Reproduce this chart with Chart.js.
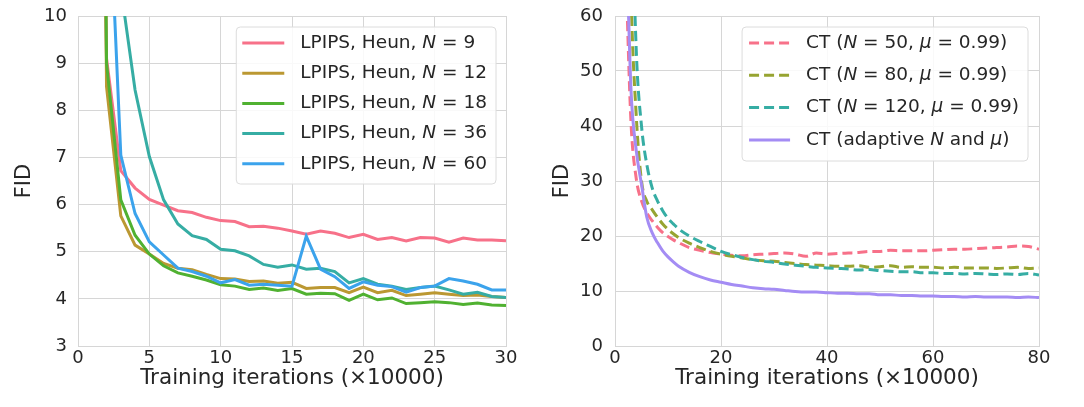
<!DOCTYPE html>
<html>
<head>
<meta charset="utf-8">
<script src="https://cdn.jsdelivr.net/npm/chart.js@4.4.0/dist/chart.umd.min.js"></script>
<style>
  body { margin: 0; background: #fff; }
  #wrap { position: relative; width: 1084px; height: 407px; }
  canvas { position: absolute; top: 0; }
  #left { left: 0; }
  #right { left: 540px; }
</style>
</head>
<body>
<div id="wrap">
  <canvas id="left" width="540" height="407"></canvas>
  <canvas id="right" width="544" height="407"></canvas>
</div>
<script>
// left panel: LPIPS metric, Heun solver, different N
const leftIters = [1, 2, 3, 4, 5, 6, 7, 8, 9, 10, 11, 12, 13, 14, 15, 16, 17, 18, 19, 20, 21, 22, 23, 24, 25, 26, 27, 28, 29, 30];
const lpipsN9  = [30, 9.1, 6.72, 6.35, 6.11, 5.99, 5.87, 5.83, 5.73, 5.66, 5.64, 5.53, 5.54, 5.50, 5.44, 5.37, 5.44, 5.39, 5.30, 5.37, 5.26, 5.30, 5.23, 5.30, 5.29, 5.20, 5.29, 5.25, 5.25, 5.23];
const lpipsN12 = [40, 8.5, 5.76, 5.14, 4.95, 4.75, 4.65, 4.62, 4.52, 4.43, 4.42, 4.37, 4.38, 4.33, 4.35, 4.22, 4.24, 4.24, 4.13, 4.25, 4.13, 4.18, 4.07, 4.10, 4.13, 4.10, 4.07, 4.08, 4.05, 4.03];
const lpipsN18 = [40, 9.0, 6.10, 5.35, 4.95, 4.70, 4.55, 4.48, 4.40, 4.30, 4.27, 4.20, 4.23, 4.18, 4.22, 4.10, 4.12, 4.11, 3.97, 4.10, 3.98, 4.02, 3.90, 3.92, 3.94, 3.92, 3.88, 3.91, 3.87, 3.86];
const lpipsN36 = [40, 25, 10.6, 8.43, 7.02, 6.10, 5.59, 5.34, 5.26, 5.05, 5.02, 4.91, 4.73, 4.67, 4.72, 4.63, 4.65, 4.58, 4.34, 4.43, 4.31, 4.27, 4.20, 4.24, 4.27, 4.19, 4.10, 4.14, 4.05, 4.03];
const lpipsN60 = [40, 13.9, 7.05, 5.81, 5.21, 4.93, 4.65, 4.58, 4.48, 4.34, 4.41, 4.29, 4.31, 4.29, 4.27, 5.33, 4.63, 4.47, 4.22, 4.36, 4.29, 4.26, 4.14, 4.24, 4.27, 4.43, 4.38, 4.31, 4.19, 4.19];
const leftLabels = ['LPIPS, Heun, N = 9', 'LPIPS, Heun, N = 12', 'LPIPS, Heun, N = 18', 'LPIPS, Heun, N = 36', 'LPIPS, Heun, N = 60'];
const leftColors = ['#f77189', '#bb9832', '#50b131', '#36ada4', '#3ba3ec'];
const leftXTicks = [0, 5, 10, 15, 20, 25, 30];
const leftYTicks = [3, 4, 5, 6, 7, 8, 9, 10];

// right panel: CT with fixed vs adaptive schedule
const rightIters = [2, 3, 4, 5, 6, 7, 8, 9, 10, 11, 12, 14, 16, 18, 20, 22, 24, 26, 28, 30, 32, 34, 36, 38, 40, 42, 44, 46, 48, 50, 52, 54, 56, 58, 60, 62, 64, 66, 68, 70, 72, 74, 76, 78, 80];
const ctN50  = [70, 41, 30.5, 26.4, 24.2, 22.8, 21.6, 20.6, 19.9, 19.3, 18.8, 17.9, 17.4, 17.0, 16.7, 16.5, 16.4, 16.6, 16.7, 16.8, 16.9, 16.7, 16.3, 16.9, 16.7, 16.8, 16.9, 17.0, 17.2, 17.2, 17.4, 17.3, 17.3, 17.3, 17.4, 17.5, 17.6, 17.6, 17.7, 17.8, 17.9, 18.0, 18.2, 18.1, 17.6];
const ctN80  = [120, 65, 42, 30, 26.3, 24.8, 23.4, 22.2, 21.2, 20.4, 19.7, 18.7, 17.9, 17.2, 16.7, 16.3, 16.0, 15.7, 15.5, 15.4, 15.2, 15.0, 14.8, 14.7, 14.6, 14.5, 14.5, 14.6, 14.3, 14.4, 14.6, 14.3, 14.4, 14.3, 14.3, 14.2, 14.3, 14.2, 14.2, 14.2, 14.1, 14.2, 14.3, 14.1, 14.2];
const ctN120 = [150, 90, 54, 40, 33, 28.8, 26.4, 24.6, 23.2, 22.2, 21.3, 20.0, 19.0, 18.1, 17.2, 16.6, 16.1, 15.7, 15.4, 15.2, 14.9, 14.7, 14.5, 14.3, 14.2, 14.1, 14.0, 13.8, 13.9, 13.7, 13.6, 13.5, 13.5, 13.3, 13.3, 13.2, 13.2, 13.1, 13.2, 13.1, 13.0, 13.1, 13.0, 13.2, 12.9];
const ctAdaptive = [80, 47, 35.6, 29.4, 23.4, 20.6, 18.8, 17.3, 16.2, 15.3, 14.5, 13.4, 12.6, 12.0, 11.6, 11.2, 10.9, 10.6, 10.4, 10.3, 10.1, 9.9, 9.8, 9.8, 9.7, 9.6, 9.6, 9.5, 9.5, 9.3, 9.3, 9.2, 9.2, 9.1, 9.1, 9.0, 9.0, 8.9, 9.0, 8.9, 8.9, 8.9, 8.8, 8.9, 8.8];
const rightLabels = ['CT (N = 50, μ = 0.99)', 'CT (N = 80, μ = 0.99)', 'CT (N = 120, μ = 0.99)', 'CT (adaptive N and μ)'];
const rightColors = ['#f77189', '#97a431', '#36ada4', '#a48cf4'];
const rightDashed = [true, true, true, false];
const rightXTicks = [0, 20, 40, 60, 80];
const rightYTicks = [0, 10, 20, 30, 40, 50, 60];

const FONT = "'DejaVu Sans', sans-serif";
const LEGEND_SIZE = 18.5;
Chart.defaults.font.family = FONT;
Chart.defaults.font.size = 18;
Chart.defaults.color = '#262626';

// legend text: N and mu in italic like matplotlib mathtext
function richParts(label) {
  return label.split(/([Nμ])/).filter(s => s.length);
}
function drawRich(ctx, label, x, y, size, measureOnly) {
  let cx = x;
  for (const part of richParts(label)) {
    const it = part === 'N' || part === 'μ';
    ctx.font = (it ? 'italic ' : '') + size + 'px ' + FONT;
    if (!measureOnly) ctx.fillText(part, cx, y);
    cx += ctx.measureText(part).width;
  }
  return cx - x;
}

const insideLegend = {
  id: 'insideLegend',
  afterDatasetsDraw(chart, args, o) {
    const ctx = chart.ctx, area = chart.chartArea, sets = chart.data.datasets;
    ctx.save();
    let maxW = 0;
    sets.forEach(ds => { maxW = Math.max(maxW, drawRich(ctx, ds.label, 0, 0, LEGEND_SIZE, true)); });
    const w = o.padLeft + o.lineLen + o.gap + maxW + o.padRight;
    const x0 = area.right - o.marginRight - w;
    const y0 = area.top + o.marginTop;
    ctx.beginPath();
    ctx.roundRect(x0, y0, w, o.boxH, 4);
    ctx.fillStyle = 'rgba(255,255,255,0.85)';
    ctx.fill();
    ctx.strokeStyle = '#dcdcdc';
    ctx.lineWidth = 1;
    ctx.stroke();
    ctx.textBaseline = 'middle';
    sets.forEach((ds, i) => {
      const y = y0 + o.firstRow + i * o.rowH;
      ctx.beginPath();
      ctx.setLineDash(ds.borderDash || []);
      ctx.strokeStyle = ds.borderColor;
      ctx.lineWidth = ds.borderWidth;
      ctx.moveTo(x0 + o.padLeft, y);
      ctx.lineTo(x0 + o.padLeft + o.lineLen, y);
      ctx.stroke();
      ctx.setLineDash([]);
      ctx.fillStyle = '#262626';
      drawRich(ctx, ds.label, x0 + o.padLeft + o.lineLen + o.gap, y, LEGEND_SIZE);
    });
    ctx.restore();
  }
};

function axes(xMin, xMax, xTicks, yMin, yMax, yTicks, yWidth, yTitlePad, yTickPad) {
  const grid = { color: '#d6d6d6', lineWidth: 1, drawTicks: false };
  const border = { color: '#d6d6d6', width: 1 };
  return {
    x: {
      type: 'linear', min: xMin, max: xMax,
      afterBuildTicks: s => { s.ticks = xTicks.map(v => ({ value: v })); },
      ticks: { padding: 2, font: { size: 18 } },
      grid, border,
      title: { display: true, text: 'Training iterations (×10000)', font: { size: 21.5 }, padding: { top: 0, bottom: 16 } },
      afterFit: s => { s.height = 61; s.paddingLeft = 0; s.paddingRight = 0; }
    },
    y: {
      type: 'linear', min: yMin, max: yMax,
      afterBuildTicks: s => { s.ticks = yTicks.map(v => ({ value: v })); },
      ticks: { padding: yTickPad, font: { size: 18 } },
      grid, border,
      title: { display: true, text: 'FID', font: { size: 21 }, padding: { top: yTitlePad, bottom: 0 } },
      afterFit: s => { s.width = yWidth; s.paddingTop = 0; s.paddingBottom = 0; }
    }
  };
}

const leftSeries = [lpipsN9, lpipsN12, lpipsN18, lpipsN36, lpipsN60];
new Chart(document.getElementById('left'), {
  type: 'line',
  data: {
    datasets: leftSeries.map((vals, i) => ({
      label: leftLabels[i],
      data: leftIters.map((x, j) => ({ x, y: vals[j] })),
      borderColor: leftColors[i],
      borderWidth: 3,
      pointRadius: 0,
      tension: 0,
      order: leftSeries.length - i
    }))
  },
  options: {
    responsive: false,
    animation: false,
    layout: { padding: { top: 16, right: 34, left: 0, bottom: 0 } },
    scales: axes(0, 30, leftXTicks, 3, 10, leftYTicks, 78, 12, 11),
    plugins: {
      legend: { display: false },
      tooltip: { enabled: false },
      insideLegend: { padLeft: 6, lineLen: 42, gap: 16, padRight: 9, marginRight: 10, marginTop: 11, firstRow: 16, rowH: 30.2, boxH: 157 }
    }
  },
  plugins: [insideLegend]
});

const rightSeries = [ctN50, ctN80, ctN120, ctAdaptive];
new Chart(document.getElementById('right'), {
  type: 'line',
  data: {
    datasets: rightSeries.map((vals, i) => ({
      label: rightLabels[i],
      data: rightIters.map((x, j) => ({ x, y: vals[j] })),
      borderColor: rightColors[i],
      borderWidth: 3,
      borderDash: rightDashed[i] ? [10, 5] : [],
      pointRadius: 0,
      cubicInterpolationMode: 'monotone',
      order: rightSeries.length - i
    }))
  },
  options: {
    responsive: false,
    animation: false,
    layout: { padding: { top: 16, right: 45, left: 0, bottom: 0 } },
    scales: axes(0, 80, rightXTicks, 0, 60, rightYTicks, 75, 10, 12),
    plugins: {
      legend: { display: false },
      tooltip: { enabled: false },
      insideLegend: { padLeft: 7, lineLen: 41, gap: 16, padRight: 9, marginRight: 11, marginTop: 11, firstRow: 16, rowH: 32.3, boxH: 134 }
    }
  },
  plugins: [insideLegend]
});
</script>
</body>
</html>
